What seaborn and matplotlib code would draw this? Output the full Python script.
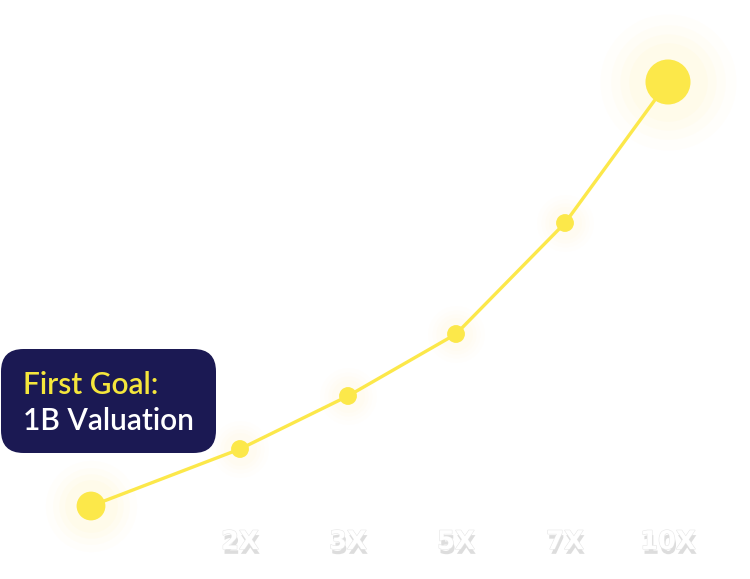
import matplotlib
matplotlib.use("Agg")
import matplotlib.pyplot as plt
import matplotlib.patheffects as pe
from matplotlib.patches import FancyBboxPatch
import seaborn as sns
import pandas as pd

# ---- data ----
stage_pos = [0, 149, 257, 365, 474, 577]          # horizontal position of each stage
growth = [0, 57, 110, 172, 283, 424]              # curve height of each stage
tick_labels = ["", "2X", "3X", "5X", "7X", "10X"]
goal_title = "First Goal:"
goal_text = "1B Valuation"

df = pd.DataFrame({"pos": stage_pos, "growth": growth, "label": tick_labels})

sns.set_theme(style="white")
plt.rcParams["font.family"] = ["Lato", "DejaVu Sans"]

fig = plt.figure(figsize=(7.5, 5.79), dpi=100)
ax = fig.add_axes([0, 0, 1, 1])
ax.set_xlim(-91, 659)
ax.set_ylim(-73, 506)
ax.axis("off")

YELLOW = "#FCE84A"
GLOW = "#FFF3A0"

# glow halos
for s, a in [(2400, 0.04), (1700, 0.05), (1200, 0.06), (800, 0.07)]:
    ax.scatter(df["pos"].iloc[[-1]], df["growth"].iloc[[-1]], s=s * 4, color=GLOW, alpha=a, lw=0, zorder=1)
    ax.scatter(df["pos"].iloc[[0]], df["growth"].iloc[[0]], s=s * 1.8, color=GLOW, alpha=a, lw=0, zorder=1)
    ax.scatter(df["pos"].iloc[1:-1], df["growth"].iloc[1:-1], s=s * 0.7, color=GLOW, alpha=a * 0.6, lw=0, zorder=1)

sns.lineplot(data=df, x="pos", y="growth", color=YELLOW, lw=2.4, ax=ax, zorder=3, legend=False)

sizes = [430] + [165] * 4 + [1050]
sns.scatterplot(data=df, x="pos", y="growth", s=sizes, color=YELLOW, edgecolor="none",
                ax=ax, zorder=4, legend=False)
ax.set_xlabel("")
ax.set_ylabel("")

# stage labels
for x, lab in zip(df["pos"], df["label"]):
    if not lab:
        continue
    ax.text(x, -36, lab, ha="center", va="center", fontsize=18.5, fontweight="bold",
            family=["DejaVu Sans"], color="white", zorder=5,
            path_effects=[pe.withSimplePatchShadow(offset=(1, -3.5), shadow_rgbFace="#b5b5b5", alpha=0.45),
                          pe.Stroke(linewidth=0.8, foreground="#e6e6e6"), pe.Normal()])

# goal box (pixel coords from top-left)
W, H = 750, 579
def fx(px):
    return px / W
def fy(py):
    return 1 - py / H

box = FancyBboxPatch((fx(1), fy(453)), fx(216) - fx(1), fy(349) - fy(453),
                     boxstyle="round,pad=0,rounding_size=0.03", transform=fig.transFigure,
                     facecolor="#1B1953", edgecolor="none", zorder=6, mutation_aspect=750 / 579)
fig.patches.append(box)
fig.text(fx(23), fy(385), goal_title, color="#F5E63C", fontsize=21.5, fontweight="semibold",
         ha="left", va="center", zorder=7)
fig.text(fx(23), fy(421), goal_text, color="white", fontsize=21.5, fontweight="semibold",
         ha="left", va="center", zorder=7)

fig.savefig("out.png", dpi=100, facecolor="white")
